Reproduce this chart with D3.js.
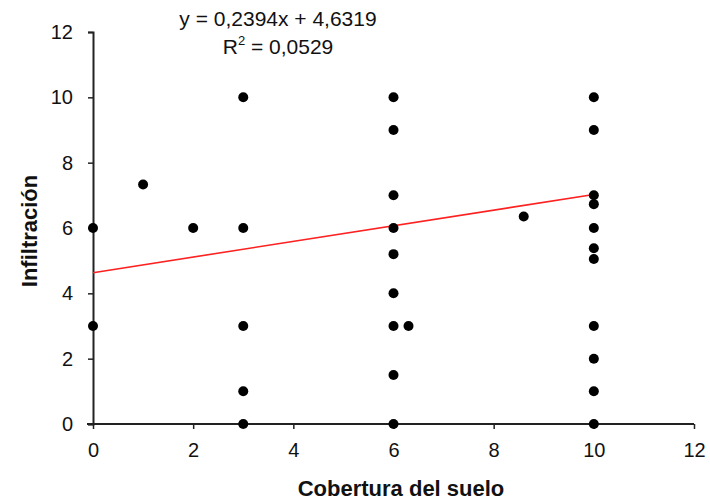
<!DOCTYPE html>
<html><head><meta charset="utf-8">
<script src="https://cdn.jsdelivr.net/npm/d3@7"></script>
<style>body{margin:0;background:#fff}svg{display:block}text{font-family:"Liberation Sans",Arial,sans-serif}</style>
</head><body><svg id="c" width="710" height="501"></svg>
<script>
const xValues = [0,0,1,2,3,3,3,3,3,6,6,6,6,6,6,6,6,6,6.3,8.6,10,10,10,10,10,10,10,10,10,10,10];
const yValues = [6,3,7.33,6,10,6,3,1,0,10,9,7,6,5.2,4,3,1.5,0,3,6.35,10,9,7,6.73,6,5.38,5.05,3,2,1,0];
const xTicks = [0,2,4,6,8,10,12];
const yTicks = [0,2,4,6,8,10,12];
const slope = 0.2394, intercept = 4.6319;
const eqText = "y = 0,2394x + 4,6319";
const r2Value = "0,0529";

const svg = d3.select("#c");
const m = {l:93, r:16, t:32, b:77};
const W = 710, H = 501;
const x = d3.scaleLinear().domain([0,12]).range([m.l, W-m.r]);
const y = d3.scaleLinear().domain([0,12]).range([H-m.b, m.t]);

const xa = svg.append("g").attr("transform",`translate(0,${H-m.b})`)
  .call(d3.axisBottom(x).tickValues(xTicks).tickSize(5).tickPadding(14).tickFormat(d3.format("d")));
const ya = svg.append("g").attr("transform",`translate(${m.l},0)`)
  .call(d3.axisLeft(y).tickValues(yTicks).tickSize(5).tickPadding(15).tickFormat(d3.format("d")));
[xa,ya].forEach(a=>{
  a.select(".domain").attr("stroke","#222").attr("stroke-width",2);
  a.selectAll(".tick line").attr("stroke","#222").attr("stroke-width",1.5);
  a.selectAll(".tick text").attr("fill","#111").style("font-size","20px");
});
xa.select(".domain").attr("d",`M${m.l-6},0H${W-m.r}`);

svg.append("line")
  .attr("x1",x(0)).attr("y1",y(intercept))
  .attr("x2",x(10)).attr("y2",y(intercept+slope*10))
  .attr("stroke","#ff2020").attr("stroke-width",1.6);

svg.append("g").selectAll("circle").data(xValues.map((d,i)=>[d,yValues[i]]))
  .join("circle").attr("cx",d=>x(d[0])).attr("cy",d=>y(d[1])).attr("r",5).attr("fill","#000");

svg.append("text").attr("x",278).attr("y",26).attr("text-anchor","middle")
  .style("font-size","21px").attr("fill","#111").text(eqText);
const r2 = svg.append("text").attr("x",278).attr("y",54).attr("text-anchor","middle")
  .style("font-size","21px").attr("fill","#111");
r2.append("tspan").text("R");
r2.append("tspan").attr("dy",-9).style("font-size","13px").text("2");
r2.append("tspan").attr("dy",9).text(" = " + r2Value);

svg.append("text").attr("x",401).attr("y",496).attr("text-anchor","middle")
  .style("font-size","22px").style("font-weight","bold").attr("fill","#111").text("Cobertura del suelo");
svg.append("text").attr("transform","translate(37,231) rotate(-90)").attr("text-anchor","middle")
  .style("font-size","22px").style("font-weight","bold").attr("fill","#111").text("Infiltración");
</script></body></html>
